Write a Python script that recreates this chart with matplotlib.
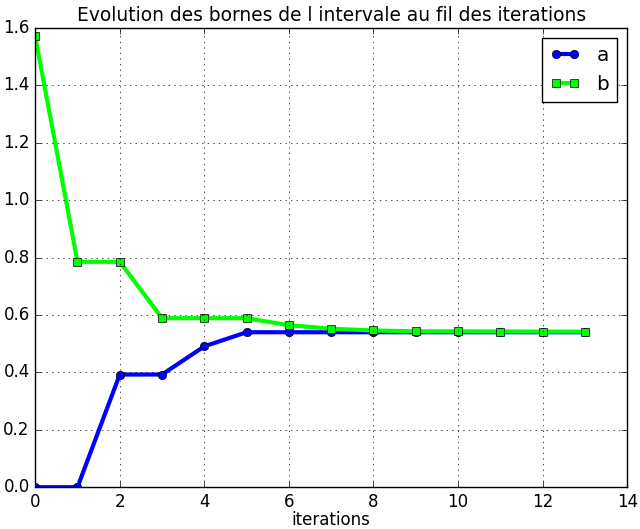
import numpy as np
import matplotlib
matplotlib.use("Agg")
import matplotlib.pyplot as plt

plt.style.use("classic")

iterations = list(range(14))
a_vals = [0.0, 0.0, 0.3927, 0.3927, 0.4909, 0.5400, 0.5400, 0.5400,
          0.5400, 0.5400, 0.5400, 0.5400, 0.5400, 0.5400]
b_vals = [1.5708, 0.7854, 0.7854, 0.5890, 0.5890, 0.5890, 0.5645, 0.5522,
          0.5461, 0.5431, 0.5430, 0.5425, 0.5422, 0.5420]

fig = plt.figure(figsize=(6.4, 5.29), dpi=100)
ax = fig.add_axes([0.055, 0.079, 0.925, 0.868])
ax.plot(iterations, a_vals, "-o", color="#0000ff", lw=3, ms=6, mec="k", label="a")
ax.plot(iterations, b_vals, "-s", color="#00ff00", lw=3, ms=6, mec="k", label="b")
ax.set_xlim(0, 14)
ax.set_ylim(0, 1.6)
ax.set_xlabel("iterations", labelpad=0)
ax.set_title("Evolution des bornes de l intervale au fil des iterations", fontsize=13.4)
ax.grid(True)
ax.legend(loc="upper right", numpoints=2, handlelength=1.5)
fig.savefig("out.png", dpi=100)
